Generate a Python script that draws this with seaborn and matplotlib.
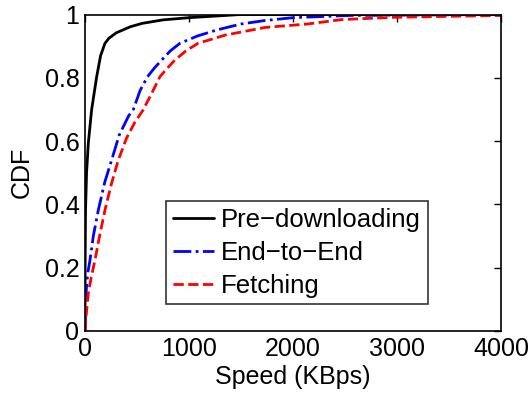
import matplotlib
matplotlib.use("Agg")
import matplotlib.pyplot as plt
import seaborn as sns
import pandas as pd

pre_x = [0, 1, 5, 15, 32, 64, 112, 150, 192, 230, 300, 433, 550, 750, 1000, 1500, 4000]
pre_y = [0, 0.2, 0.38, 0.5, 0.594, 0.7, 0.803, 0.87, 0.909, 0.925, 0.942, 0.961, 0.972, 0.983, 0.99, 1.0, 1.0]

e2e_x = [0, 3, 10, 25, 48, 80, 128, 190, 256, 330, 420, 465, 530, 600, 665, 737, 820, 913, 1080, 1266, 1500, 1730, 2000, 2550, 4000]
e2e_y = [0, 0.05, 0.12, 0.18, 0.224, 0.3, 0.382, 0.47, 0.54, 0.62, 0.68, 0.70, 0.76, 0.803, 0.83, 0.856, 0.885, 0.909, 0.932, 0.951, 0.97, 0.981, 0.99, 0.997, 1.0]

fet_x = [0, 10, 32, 60, 96, 140, 192, 250, 320, 400, 480, 558, 640, 720, 790, 865, 970, 1087, 1350, 1730, 2140, 2470, 2950, 4000]
fet_y = [0, 0.045, 0.12, 0.17, 0.224, 0.3, 0.382, 0.46, 0.54, 0.61, 0.66, 0.698, 0.75, 0.803, 0.83, 0.856, 0.885, 0.909, 0.935, 0.959, 0.97, 0.984, 0.991, 0.997]

labels = ["Pre\u2212downloading", "End\u2212to\u2212End", "Fetching"]
x_ticks = [0, 1000, 2000, 3000, 4000]
y_ticks = [0, 0.2, 0.4, 0.6, 0.8, 1.0]
y_ticklabels = ["0", "0.2", "0.4", "0.6", "0.8", "1"]

df = pd.concat([
    pd.DataFrame({"x": pre_x, "y": pre_y, "s": labels[0]}),
    pd.DataFrame({"x": e2e_x, "y": e2e_y, "s": labels[1]}),
    pd.DataFrame({"x": fet_x, "y": fet_y, "s": labels[2]}),
], ignore_index=True)

sns.set_style("white")
plt.rcParams['font.family'] = ['Liberation Sans', 'DejaVu Sans']
plt.rcParams['text.color'] = 'black'
plt.rcParams['axes.labelcolor'] = 'black'

fig = plt.figure(figsize=(5.30, 3.97), dpi=100)
ax = fig.add_axes([85/530, 1-331/397, (501-85)/530, (331-14.5)/397])

palette = {labels[0]: "black", labels[1]: "blue", labels[2]: "red"}
sns.lineplot(data=df, x="x", y="y", hue="s", palette=palette, ax=ax,
             sort=False, estimator=None, linewidth=2)
styles = ["-", "-.", "--"]
for line, ls in zip(ax.get_lines(), styles):
    line.set_linestyle(ls)

ax.set_xlim(0, 4000)
ax.set_ylim(0, 1)
ax.set_xticks(x_ticks)
ax.set_xticklabels([str(t) for t in x_ticks])
ax.set_yticks(y_ticks)
ax.set_yticklabels(y_ticklabels)
ax.tick_params(direction="in", length=5, width=1, top=True, right=True,
               labelsize=18, colors="black", pad=4)
for sp in ax.spines.values():
    sp.set_visible(True)
    sp.set_color("black")
    sp.set_linewidth(1.2)
ax.set_xlabel("Speed (KBps)", fontsize=18, labelpad=3, color="black")
ax.set_ylabel("CDF", fontsize=18, labelpad=8, color="black")

handles = ax.get_lines()[:3]
leg = ax.legend(handles, labels, loc="lower left", bbox_to_anchor=(0.195, 0.085),
                fontsize=18.5, frameon=True, fancybox=False, edgecolor="black",
                borderpad=0.25, labelspacing=0.35, handlelength=1.6, handletextpad=0.3,
                borderaxespad=0)
leg.get_frame().set_linewidth(1.2)
for t in leg.get_texts():
    t.set_color("black")

fig.savefig("out.png", dpi=100)
